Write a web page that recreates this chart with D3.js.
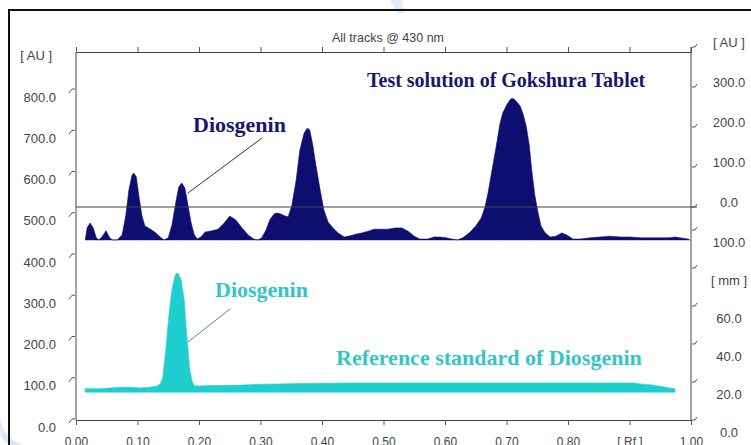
<!DOCTYPE html>
<html>
<head>
<meta charset="utf-8">
<script src="https://cdn.jsdelivr.net/npm/d3@7"></script>
<style>
  html, body { margin: 0; padding: 0; background: #fff; }
  svg { display: block; }
  .axis-label { font-family: "Liberation Sans", Arial, sans-serif; fill: #444; }
</style>
</head>
<body>
<svg id="chart" width="751" height="445"></svg>
<script>
// Rf tick positions and labels (0.90 slot carries the unit)
const xTicks = [0, 0.1, 0.2, 0.3, 0.4, 0.5, 0.6, 0.7, 0.8, 0.9, 1.0];
const xTickLabels = ['0.00', '0.10', '0.20', '0.30', '0.40', '0.50', '0.60', '0.70', '0.80', '[ Rf ]', '1.00'];

// left AU axis
const leftTicks = [0, 100, 200, 300, 400, 500, 600, 700, 800, 900];
const leftTickLabels = ['0.0', '100.0', '200.0', '300.0', '400.0', '500.0', '600.0', '700.0', '800.0', '[ AU ]'];

// right axis, upper part (AU) and lower part (mm)
const rightAUTicks = [0, 100, 200, 300, 400];
const rightAULabels = ['0.0', '100.0', '200.0', '300.0', '[ AU ]'];
const rightMMTicks = [0, 20, 40, 60, 80, 100];
const rightMMLabels = ['0.0', '20.0', '40.0', '60.0', '[ mm ]', '100.0'];

// test solution track: [Rf, AU]
const upperBase = 439;
const upperTrack = [
  [0.015, 439], [0.018, 468], [0.023, 480], [0.028, 468], [0.033, 444], [0.037, 439],
  [0.042, 446], [0.049, 461], [0.054, 446], [0.059, 439], [0.067, 439], [0.075, 451],
  [0.081, 499], [0.086, 560], [0.091, 596], [0.094, 601], [0.098, 592], [0.102, 548],
  [0.107, 499], [0.112, 473], [0.120, 466], [0.128, 458], [0.137, 446], [0.143, 439],
  [0.150, 444], [0.156, 475], [0.163, 536], [0.167, 567], [0.172, 577], [0.177, 565],
  [0.182, 524], [0.187, 482], [0.192, 453], [0.197, 441], [0.203, 446], [0.210, 458],
  [0.221, 461], [0.231, 465], [0.241, 480], [0.250, 497], [0.260, 487], [0.270, 468],
  [0.280, 451], [0.289, 441], [0.296, 439], [0.302, 444], [0.309, 463], [0.315, 487],
  [0.322, 502], [0.327, 504], [0.333, 502], [0.340, 497], [0.345, 495], [0.351, 523],
  [0.358, 584], [0.364, 657], [0.371, 698], [0.376, 710], [0.380, 706], [0.385, 669],
  [0.390, 621], [0.397, 560], [0.403, 512], [0.410, 482], [0.418, 468], [0.426, 456],
  [0.436, 446], [0.446, 449], [0.455, 453], [0.465, 456], [0.475, 460], [0.485, 465],
  [0.494, 465], [0.507, 465], [0.519, 468], [0.530, 468], [0.540, 460], [0.550, 448],
  [0.559, 441], [0.572, 441], [0.582, 446], [0.592, 446], [0.602, 444], [0.611, 441],
  [0.620, 439], [0.629, 444], [0.641, 458], [0.650, 473], [0.659, 492], [0.665, 519],
  [0.670, 553], [0.675, 596], [0.680, 638], [0.685, 681], [0.689, 718], [0.694, 747],
  [0.701, 768], [0.707, 781], [0.712, 781], [0.717, 773], [0.722, 764], [0.727, 744],
  [0.732, 715], [0.737, 669], [0.741, 608], [0.746, 548], [0.751, 507], [0.756, 473],
  [0.763, 456], [0.771, 446], [0.780, 448], [0.790, 456], [0.798, 451], [0.808, 441],
  [0.820, 441], [0.836, 444], [0.852, 446], [0.868, 448], [0.885, 446], [0.901, 446],
  [0.917, 444], [0.933, 444], [0.950, 444], [0.966, 444], [0.974, 446], [0.982, 444],
  [0.995, 441], [0.998, 439]
];

// reference standard track: [Rf, AU]
const lowerBase = 70;
const lowerTrack = [
  [0.015, 79], [0.023, 78], [0.039, 78], [0.055, 80], [0.072, 82], [0.088, 82],
  [0.104, 80], [0.120, 82], [0.132, 85], [0.137, 90], [0.141, 104], [0.146, 172],
  [0.151, 257], [0.156, 318], [0.161, 352], [0.164, 359], [0.167, 356], [0.171, 342],
  [0.176, 293], [0.180, 209], [0.185, 124], [0.189, 95], [0.193, 85], [0.202, 85],
  [0.218, 86], [0.234, 86], [0.267, 87], [0.299, 89], [0.332, 90], [0.364, 91],
  [0.446, 92], [0.527, 92], [0.608, 92], [0.689, 92], [0.771, 92], [0.852, 92],
  [0.909, 92], [0.917, 90], [0.933, 88], [0.950, 84], [0.966, 80], [0.974, 78]
];

const svg = d3.select('#chart');

// scales
const x = d3.scaleLinear().domain([0, 1]).range([76, 691]);
const yLeft = d3.scaleLinear().domain([0, 900]).range([421, 49.75]);
const yRightAU = d3.scaleLinear().domain([0, 400]).range([207, 47]);
const yMM = d3.scaleLinear().domain([0, 100]).range([420, 230]);

// faint watermark pieces
svg.append('path')
  .attr('d', 'M 390 0 Q 392 8 400 14 L 406 12 Q 401 6 402 0 Z')
  .attr('fill', '#e3ebf8');
svg.append('path')
  .attr('d', 'M 0 418 Q 4 438 22 445 L 10 445 Q 0 440 0 430 Z')
  .attr('fill', '#dfe8f7');

// outer frame
svg.append('rect')
  .attr('x', 9).attr('y', 10)
  .attr('width', 800).attr('height', 500)
  .attr('fill', 'none')
  .attr('stroke', '#111')
  .attr('stroke-width', 2);

// areas
const upperArea = d3.area()
  .x(d => x(d[0]))
  .y0(yLeft(upperBase))
  .y1(d => yLeft(d[1]));

const lowerArea = d3.area()
  .x(d => x(d[0]))
  .y0(yLeft(lowerBase))
  .y1(d => yLeft(d[1]));

svg.append('path')
  .datum(upperTrack)
  .attr('d', upperArea)
  .attr('fill', '#0e0e70')
  .attr('stroke', '#0e0e70')
  .attr('stroke-width', 0.6);

svg.append('path')
  .datum(lowerTrack)
  .attr('d', lowerArea)
  .attr('fill', '#1fcfcf')
  .attr('stroke', '#1fcfcf')
  .attr('stroke-width', 0.6);

// zero line of the upper AU scale
svg.append('line')
  .attr('x1', x(0)).attr('x2', x(1) + 6)
  .attr('y1', yRightAU(0)).attr('y2', yRightAU(0))
  .attr('stroke', '#444')
  .attr('stroke-width', 1);

// bottom axis
const bottomAxis = svg.append('g')
  .attr('transform', `translate(0,${yMM(0)})`)
  .call(d3.axisBottom(x)
    .tickValues(xTicks)
    .tickFormat((d, i) => xTickLabels[i])
    .tickSize(5)
    .tickSizeOuter(0)
    .tickPadding(12));

// top axis (ticks only)
const topAxis = svg.append('g')
  .attr('transform', 'translate(0,52)')
  .call(d3.axisTop(x)
    .tickValues(xTicks)
    .tickFormat('')
    .tickSize(5)
    .tickSizeOuter(0));

[bottomAxis, topAxis].forEach(g => {
  g.select('.domain').attr('stroke', '#444');
  g.selectAll('.tick line').attr('stroke', '#555');
  g.selectAll('.tick text')
    .attr('class', 'axis-label')
    .attr('font-size', 12);
});

// left and right axis lines
svg.append('line')
  .attr('x1', x(0)).attr('x2', x(0))
  .attr('y1', 52).attr('y2', yMM(0))
  .attr('stroke', '#444');
svg.append('line')
  .attr('x1', x(1)).attr('x2', x(1))
  .attr('y1', 47).attr('y2', yMM(0))
  .attr('stroke', '#444');

// left ticks (small slanted marks) + labels
const left = svg.append('g');
left.selectAll('path')
  .data(leftTicks.slice(0, -1))
  .join('path')
  .attr('d', d => `M 69 ${yLeft(d) + 2} L 72 ${yLeft(d) - 2} L 75 ${yLeft(d) - 2}`)
  .attr('fill', 'none')
  .attr('stroke', '#555');
left.selectAll('text')
  .data(leftTicks)
  .join('text')
  .attr('class', 'axis-label')
  .attr('x', (d, i) => i === leftTicks.length - 1 ? 52 : 56)
  .attr('y', d => yLeft(d) + 6)
  .attr('dy', '0.35em')
  .attr('text-anchor', 'end')
  .attr('font-size', 13)
  .text((d, i) => leftTickLabels[i]);

// right ticks + labels
const right = svg.append('g');
const rightTicks = rightAUTicks.map(d => yRightAU(d)).concat(rightMMTicks.map(d => yMM(d)));
right.selectAll('path')
  .data(rightTicks)
  .join('path')
  .attr('d', y => `M 692 ${y} L 695 ${y} L 697 ${y - 3}`)
  .attr('fill', 'none')
  .attr('stroke', '#555');
right.selectAll('text.au')
  .data(rightAUTicks)
  .join('text')
  .attr('class', 'axis-label au')
  .attr('x', 729)
  .attr('y', d => yRightAU(d) - 5)
  .attr('dy', '0.35em')
  .attr('text-anchor', 'middle')
  .attr('font-size', 13)
  .text((d, i) => rightAULabels[i]);
right.selectAll('text.mm')
  .data(rightMMTicks)
  .join('text')
  .attr('class', 'axis-label mm')
  .attr('x', 729)
  .attr('y', d => yMM(d) + 12)
  .attr('dy', '0.35em')
  .attr('text-anchor', 'middle')
  .attr('font-size', 13)
  .text((d, i) => rightMMLabels[i]);

// header
svg.append('text')
  .attr('class', 'axis-label')
  .attr('x', 388).attr('y', 42)
  .attr('text-anchor', 'middle')
  .attr('font-size', 12.5)
  .attr('fill', '#333')
  .text('All tracks @ 430 nm');

// annotations
const serif = '"Liberation Serif", "Times New Roman", serif';

svg.append('text')
  .attr('x', 367).attr('y', 87)
  .attr('font-family', serif).attr('font-weight', 'bold')
  .attr('font-size', 20)
  .attr('fill', '#17176e')
  .text('Test solution of Gokshura Tablet');

svg.append('text')
  .attr('x', 193).attr('y', 132)
  .attr('font-family', serif).attr('font-weight', 'bold')
  .attr('font-size', 22)
  .attr('fill', '#17176e')
  .text('Diosgenin');

svg.append('line')
  .attr('x1', 188).attr('y1', 193)
  .attr('x2', 262).attr('y2', 138)
  .attr('stroke', '#333').attr('stroke-width', 1);

svg.append('text')
  .attr('x', 215).attr('y', 297)
  .attr('font-family', serif).attr('font-weight', 'bold')
  .attr('font-size', 22)
  .attr('fill', '#33c6c6')
  .text('Diosgenin');

svg.append('line')
  .attr('x1', 188).attr('y1', 342)
  .attr('x2', 230).attr('y2', 309)
  .attr('stroke', '#4d8a92').attr('stroke-width', 1);

svg.append('text')
  .attr('x', 336).attr('y', 365)
  .attr('font-family', serif).attr('font-weight', 'bold')
  .attr('font-size', 22)
  .attr('fill', '#33c6c6')
  .text('Reference standard of Diosgenin');
</script>
</body>
</html>
